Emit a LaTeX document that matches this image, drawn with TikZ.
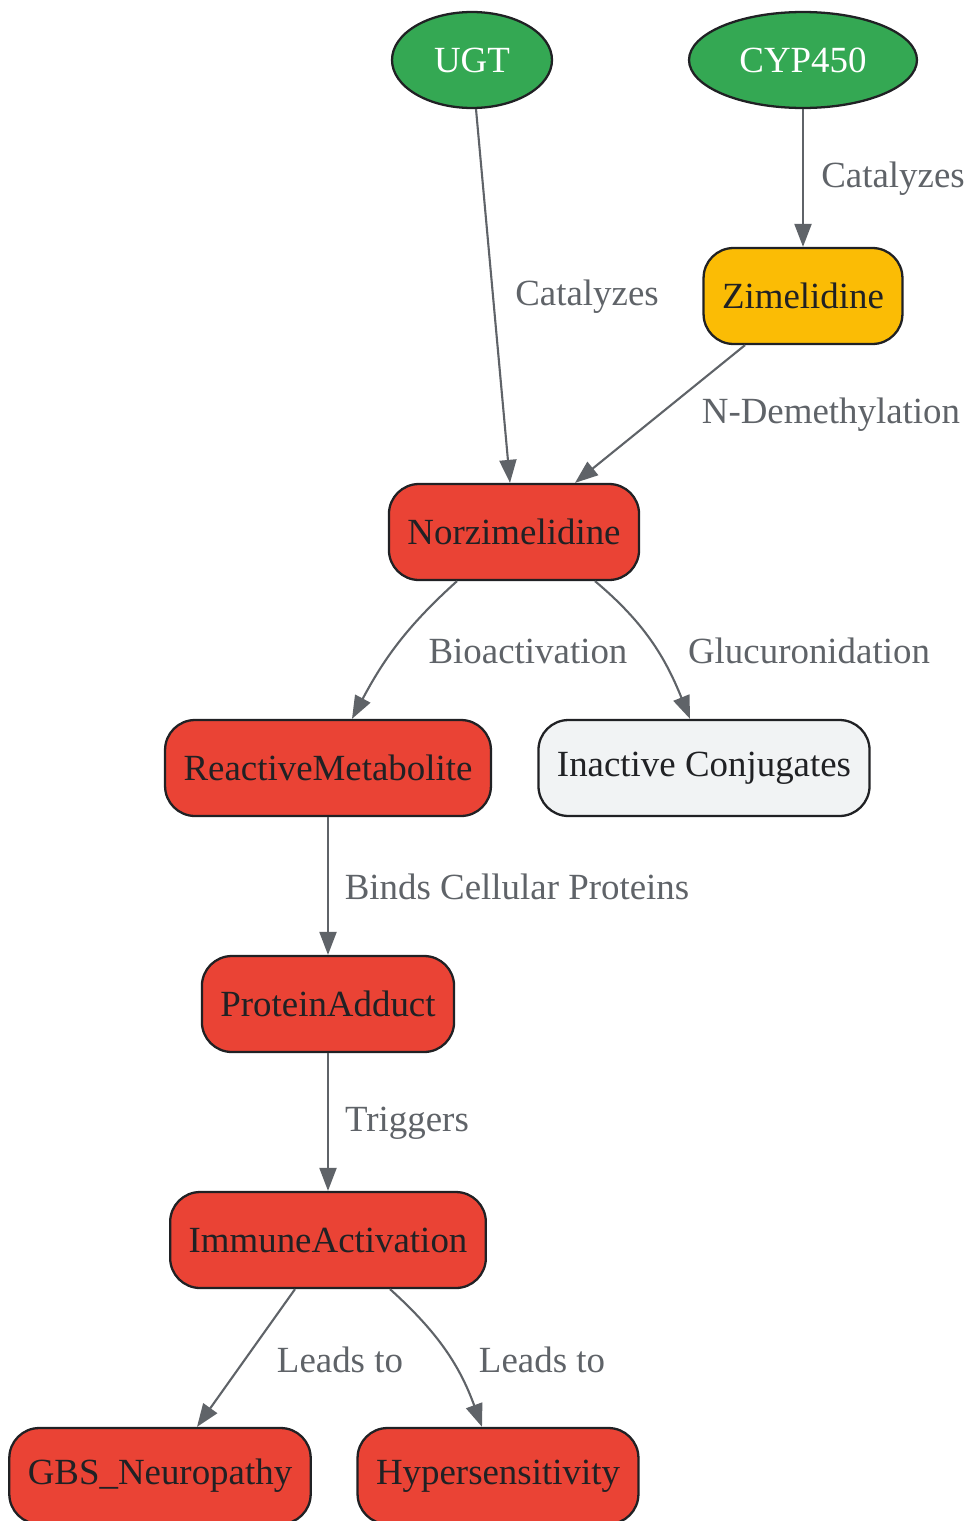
\documentclass[tikz,border=0pt]{standalone}
\usepackage{fontspec}
\setmainfont{Liberation Serif}
\usetikzlibrary{shapes.geometric,arrows.meta,calc}
\definecolor{gGreen}{HTML}{34A853}
\definecolor{gRed}{HTML}{EA4335}
\definecolor{gYellow}{HTML}{FBBC05}
\definecolor{gGray}{HTML}{F1F3F4}
\definecolor{gEdge}{HTML}{5F6368}
\definecolor{gInk}{HTML}{202124}
\tikzset{
  enzyme/.style={ellipse, draw=gInk, line width=1.3pt, fill=gGreen, text=white,
    minimum height=1.92cm, inner sep=0pt},
  box/.style={rectangle, rounded corners=0.6cm, draw=gInk, line width=1.3pt,
    text=gInk, minimum height=1.92cm, inner xsep=0.37cm},
  toxic/.style={box, fill=gRed},
  parent/.style={box, fill=gYellow},
  benign/.style={box, fill=gGray},
  flow/.style={draw=gEdge, line width=1.2pt, -{Triangle[length=0.46cm,width=0.34cm]}},
  lbl/.style={text=gEdge, inner sep=0pt}
}
\begin{document}
\begin{tikzpicture}[x=0.02cm, y=-0.02cm, font=\fontsize{21}{25}\selectfont]
  \useasboundingbox (0,0) rectangle (966,1521);
  \clip (0,0) rectangle (966,1521);

  % enzymes
  \node[enzyme, minimum width=3.2cm] (ugt) at (472,60) {UGT};
  \node[enzyme, minimum width=4.56cm] (cyp) at (803,60) {CYP450};

  % metabolites
  \node[parent] (zim) at (803,296) {Zimelidine};
  \node[toxic] (norz) at (514,532) {Norzimelidine};
  \node[toxic] (react) at (328,768) {ReactiveMetabolite};
  \node[benign] (inact) at (704,768) {Inactive Conjugates};
  \node[toxic] (adduct) at (328,1004) {ProteinAdduct};
  \node[toxic] (immune) at (328,1240) {ImmuneActivation};
  \node[toxic] (gbs) at (160,1476) {GBS\_Neuropathy};
  \node[toxic] (hyper) at (498,1476) {Hypersensitivity};

  % connectors
  \draw[flow] ($(ugt.south)+(4,0)$) -- ($(norz.north)+(-4,0)$);
  \draw[flow] (cyp.south) -- (zim.north);
  \draw[flow] ($(zim.south)+(-58,0)$) -- ($(norz.north)+(61,0)$);
  \draw[flow] ($(norz.south)+(-57,0)$) to[out=-138, in=62] ($(react.north)+(24,0)$);
  \draw[flow] ($(norz.south)+(81,0)$) to[out=-40, in=112] ($(inact.north)+(-14,0)$);
  \draw[flow] (react) -- (adduct);
  \draw[flow] (adduct) -- (immune);
  \draw[flow] ($(immune.south)+(-33,0)$) -- ($(gbs.north)+(37,0)$);
  \draw[flow] ($(immune.south)+(62,0)$) to[out=-42, in=110] ($(hyper.north)+(-16,0)$);

  % labels
  \node[lbl] (l1) at (587,297) {Catalyzes};
  \node[lbl] (l2) at (893,179) {Catalyzes};
  \node[lbl] (l3) at (831,415) {N-Demethylation};
  \node[lbl] (l4) at (528,651) {Bioactivation};
  \node[lbl] (l5) at (809,651) {Glucuronidation};
  \node[lbl] (l6) at (517,887) {Binds Cellular Proteins};
  \node[lbl] (l7) at (407,1123) {Triggers};
  \node[lbl] (l8) at (340,1360) {Leads to};
  \node[lbl] (l9) at (542,1360) {Leads to};
\end{tikzpicture}
\end{document}
